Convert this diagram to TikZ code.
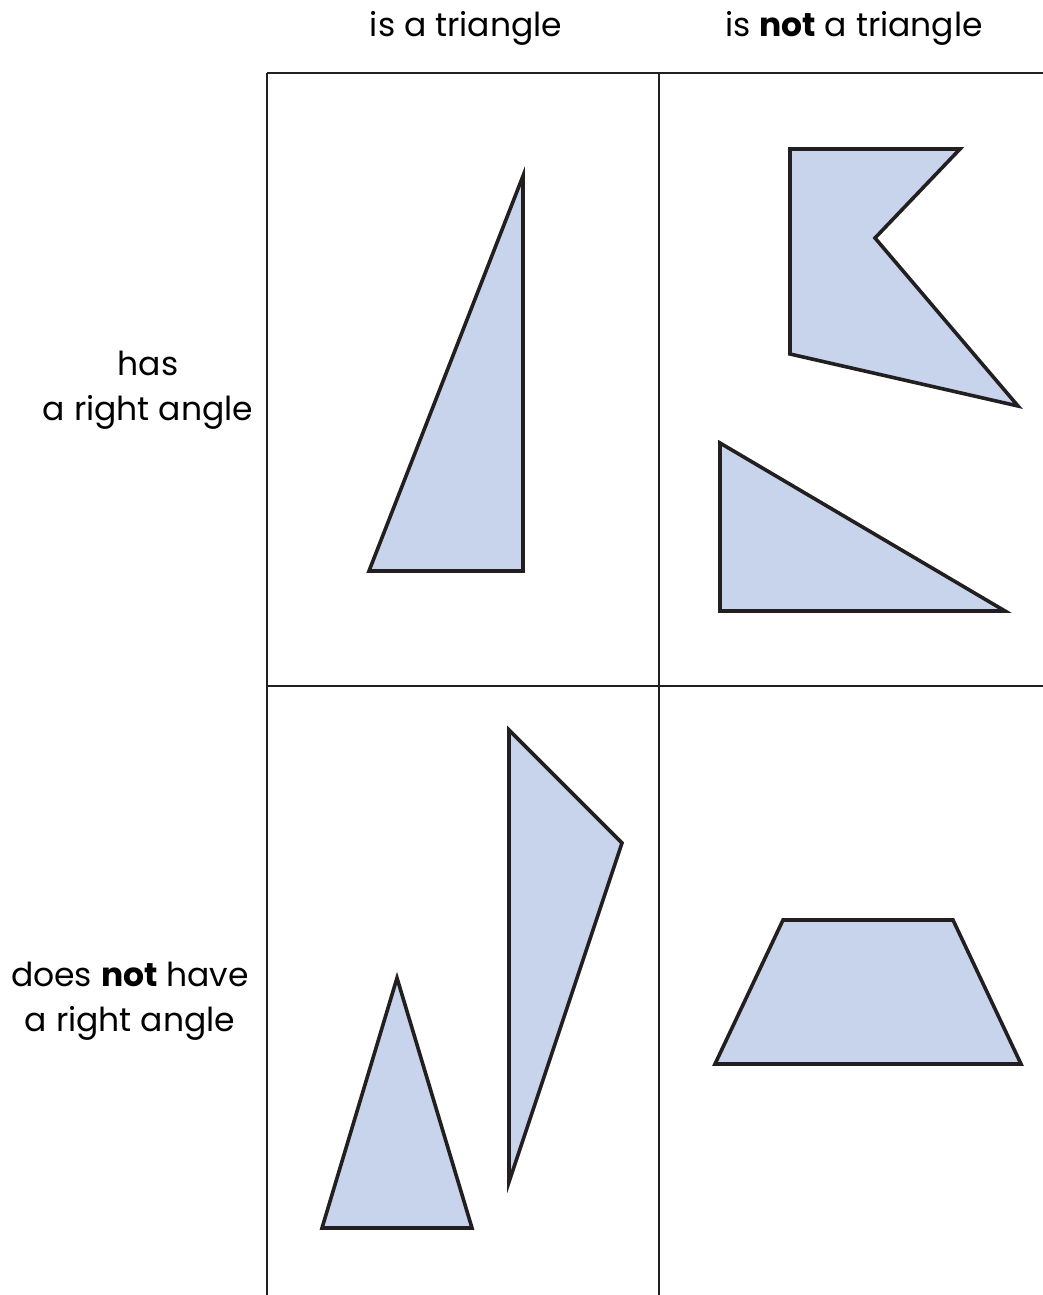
\documentclass[tikz,border=0pt]{standalone}
\usepackage{fontspec}
\setmainfont{Poppins}
\usepackage{xcolor}
\usepackage{tikz}
\definecolor{SortInk}{HTML}{231F20}
\definecolor{SortFill}{HTML}{C7D4EC}
\tikzset{
  gridline/.style={SortInk,line width=1.1pt},
  shapeline/.style={draw=SortInk,fill=SortFill,line width=1.8pt,line join=miter},
  headlabel/.style={font=\fontsize{16.5}{22.5}\selectfont,align=center,inner sep=0pt}
}
\begin{document}
\begin{tikzpicture}[x=0.5pt,y=-0.5pt]
\path[use as bounding box] (0,0) rectangle (1043,1295);
% grid
\draw[gridline] (267,73) -- (1043,73);
\draw[gridline] (267,686) -- (1043,686);
\draw[gridline] (267,73) -- (267,1295);
\draw[gridline] (659,73) -- (659,1295);
% column and row labels
\node[headlabel] (isTri) at (466,28) {is a triangle};
\node[headlabel] (notTri) at (854,28) {is \textbf{not} a triangle};
\node[headlabel] (hasRight) at (148,390) {has\\a right angle};
\node[headlabel] (noRight) at (130,1001) {does \textbf{not} have\\a right angle};
% top left
\draw[shapeline] (523,176) -- (523,571) -- (369,571) -- cycle;
% top right
\draw[shapeline] (790,149) -- (960,149) -- (875,238) -- (1018,406) -- (790,354) -- cycle;
\draw[shapeline] (720,443) -- (1005,611) -- (720,611) -- cycle;
% bottom left
\draw[shapeline] (509,730) -- (622,843) -- (509,1182) -- cycle;
\draw[shapeline] (397,978) -- (472,1228) -- (322,1228) -- cycle;
% bottom right
\draw[shapeline] (783,920) -- (953,920) -- (1021,1064) -- (715,1064) -- cycle;
\end{tikzpicture}
\end{document}
